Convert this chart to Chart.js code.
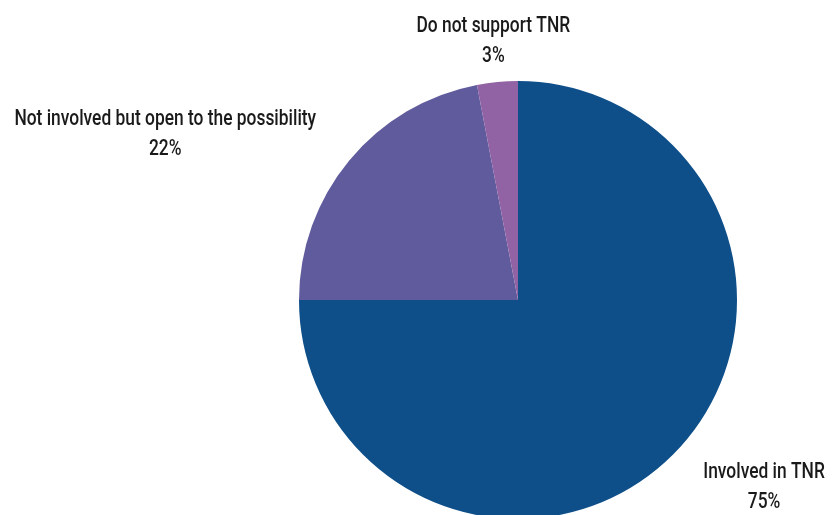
<!DOCTYPE html>
<html>
<head>
<meta charset="utf-8">
<script src="https://cdn.jsdelivr.net/npm/chart.js@4"></script>
<style>
  html, body { margin: 0; padding: 0; background: #fff; overflow: hidden; }
  #wrap { position: relative; width: 839px; height: 520px; }
</style>
</head>
<body>
<div id="wrap"><canvas id="pieChart"></canvas></div>
<script>
// chart data
const categories = ["Involved in TNR", "Not involved but open to the possibility", "Do not support TNR"];
const shares = [75, 22, 3];
const pctLabels = ["75%", "22%", "3%"];
const sliceColors = ["#0e4f8a", "#5f5b9c", "#9163a5"];

// the reference uses a narrow display face; squeeze Roboto to get close
const FONT = "500 22px Roboto, 'DejaVu Sans', sans-serif";
const SQUEEZE = 0.79;

// labels outside each slice: name on top, percent centred below
const outsideLabels = {
  id: "outsideLabels",
  afterDatasetsDraw(chart) {
    const ctx = chart.ctx;
    const arcs = chart.getDatasetMeta(0).data;
    ctx.save();
    ctx.fillStyle = "#1a1a1a";
    ctx.font = FONT;
    ctx.textBaseline = "middle";
    ctx.textAlign = "center";
    arcs.forEach(function (arc, i) {
      const mid = (arc.startAngle + arc.endAngle) / 2;
      const d = arc.outerRadius + 43;
      const x = arc.x + Math.cos(mid) * d;
      const y = arc.y + Math.sin(mid) * d;
      const c = Math.cos(mid);
      const w = ctx.measureText(categories[i]).width * SQUEEZE;
      let cx = x;
      if (Math.abs(c) >= 0.3) cx = c > 0 ? x + w / 2 : x - w / 2;
      ctx.save();
      ctx.translate(cx, y);
      ctx.scale(SQUEEZE, 1);
      ctx.fillText(categories[i], 0, -13);
      ctx.fillText(pctLabels[i], 0, 17);
      ctx.restore();
    });
    ctx.restore();
  }
};

new Chart(document.getElementById("pieChart"), {
  type: "pie",
  data: {
    labels: categories,
    datasets: [{
      data: shares,
      backgroundColor: sliceColors,
      borderWidth: 0
    }]
  },
  options: {
    responsive: true,
    maintainAspectRatio: false,
    animation: false,
    layout: { padding: { top: 81, bottom: 1, left: 299, right: 102 } },
    plugins: {
      legend: { display: false },
      tooltip: { enabled: false }
    }
  },
  plugins: [outsideLabels]
});
</script>
</body>
</html>
